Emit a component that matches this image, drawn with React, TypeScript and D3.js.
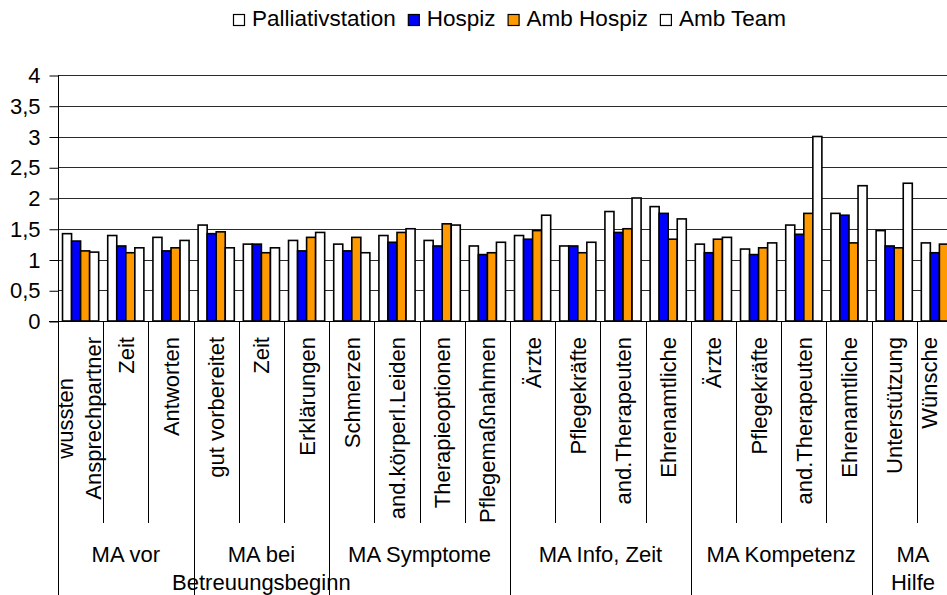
import React, { useRef, useEffect } from "react";
import * as d3 from "d3";

// category labels (one entry per bar group, lines split for wrapped labels)
const categories: string[][] = [
  ["wussten", "Ansprechpartner"],
  ["Zeit"],
  ["Antworten"],
  ["gut vorbereitet"],
  ["Zeit"],
  ["Erklärungen"],
  ["Schmerzen"],
  ["and.körperl.Leiden"],
  ["Therapieoptionen"],
  ["Pflegemaßnahmen"],
  ["Ärzte"],
  ["Pflegekräfte"],
  ["and.Therapeuten"],
  ["Ehrenamtliche"],
  ["Ärzte"],
  ["Pflegekräfte"],
  ["and.Therapeuten"],
  ["Ehrenamtliche"],
  ["Unterstützung"],
  ["Wünsche"],
];

const groupNames: string[][] = [
  ["MA vor"],
  ["MA bei", "Betreuungsbeginn"],
  ["MA Symptome"],
  ["MA Info, Zeit"],
  ["MA Kompetenz"],
  ["MA", "Hilfe"],
];
const groupSizes = [3, 3, 4, 4, 4, 2];

const seriesNames = ["Palliativstation", "Hospiz", "Amb Hospiz", "Amb Team"];
const seriesColors = ["#ffffff", "#0000ff", "#ff9900", "#ffffff"];

const palliativ = [1.42, 1.39, 1.36, 1.56, 1.25, 1.31, 1.25, 1.39, 1.31, 1.22, 1.39, 1.22, 1.78, 1.86, 1.25, 1.17, 1.56, 1.75, 1.47, 1.27];
const hospiz = [1.3, 1.22, 1.14, 1.42, 1.25, 1.14, 1.14, 1.28, 1.22, 1.08, 1.33, 1.22, 1.44, 1.75, 1.11, 1.08, 1.41, 1.72, 1.22, 1.11];
const ambHospiz = [1.14, 1.11, 1.19, 1.45, 1.11, 1.36, 1.36, 1.44, 1.58, 1.11, 1.47, 1.11, 1.5, 1.33, 1.33, 1.19, 1.75, 1.27, 1.19, 1.25];
const ambTeam = [1.12, 1.19, 1.31, 1.19, 1.19, 1.44, 1.11, 1.5, 1.56, 1.28, 1.72, 1.28, 2.0, 1.66, 1.36, 1.27, 3.0, 2.2, 2.24, 1.62];

const yTicks = [0, 0.5, 1, 1.5, 2, 2.5, 3, 3.5, 4];
const yTickLabels = ["0", "0,5", "1", "1,5", "2", "2,5", "3", "3,5", "4"];

const W = 947;
const H = 595;
const FONT = "'Liberation Sans', Arial, sans-serif";
const FS = "22px";

const App = () => {
  const svgRef = useRef<SVGSVGElement>(null);

  useEffect(() => {
    const svg = d3.select(svgRef.current);
    svg.selectAll("*").remove();

    const left = 58;
    const right = 962; // plot continues past the window edge
    const top = 75;
    const bottom = 321;

    const series = [palliativ, hospiz, ambHospiz, ambTeam];
    const idx = d3.range(categories.length);

    const x0 = d3.scaleBand<number>().domain(idx).range([left, right]).paddingInner(0).paddingOuter(0);
    const x1 = d3
      .scaleBand<number>()
      .domain(d3.range(series.length))
      .range([0, x0.bandwidth()])
      .paddingInner(0)
      .paddingOuter(0.5);
    const y = d3.scaleLinear().domain([0, 4]).range([bottom, top]);

    // gridlines
    svg
      .append("g")
      .selectAll("line")
      .data(yTicks.filter((t) => t > 0))
      .enter()
      .append("line")
      .attr("x1", left)
      .attr("x2", W)
      .attr("y1", (d) => Math.round(y(d)) + 0.5)
      .attr("y2", (d) => Math.round(y(d)) + 0.5)
      .attr("stroke", "#2a2a2a")
      .attr("stroke-width", 1);

    // y axis
    const yAxis = svg
      .append("g")
      .attr("transform", `translate(${left + 0.5},0.5)`)
      .call(
        d3
          .axisLeft(y)
          .tickValues(yTicks)
          .tickSize(9)
          .tickPadding(9)
          .tickFormat((d, i) => yTickLabels[i])
      );
    yAxis.select(".domain").remove();
    yAxis.selectAll(".tick line").attr("stroke", "#000");
    yAxis
      .selectAll(".tick text")
      .attr("fill", "#000")
      .style("font-family", FONT)
      .style("font-size", FS);

    // bars
    series.forEach((vals, s) => {
      svg
        .append("g")
        .selectAll("rect")
        .data(vals)
        .enter()
        .append("rect")
        .attr("x", (d, i) => (x0(i) as number) + (x1(s) as number))
        .attr("y", (d) => y(d))
        .attr("width", x1.bandwidth())
        .attr("height", (d) => y(0) - y(d))
        .attr("fill", seriesColors[s])
        .attr("stroke", "#000")
        .attr("stroke-width", 1.6);
    });

    // axis line (x) and left axis line that runs down into the label area
    svg
      .append("line")
      .attr("x1", left - 9)
      .attr("x2", W)
      .attr("y1", bottom + 0.5)
      .attr("y2", bottom + 0.5)
      .attr("stroke", "#000");
    svg
      .append("line")
      .attr("x1", left + 0.5)
      .attr("x2", left + 0.5)
      .attr("y1", top)
      .attr("y2", H)
      .attr("stroke", "#000");

    // category separators: short inside a group, long between groups
    const groupStarts = groupSizes.map((n, i) => d3.sum(groupSizes.slice(0, i)));
    idx.slice(1).forEach((i) => {
      const isGroup = groupStarts.includes(i);
      const xx = Math.round(x0(i) as number) + 0.5;
      svg
        .append("line")
        .attr("x1", xx)
        .attr("x2", xx)
        .attr("y1", bottom)
        .attr("y2", isGroup ? H : 523)
        .attr("stroke", "#000");
    });

    // category labels (rotated); labels at the cut edge are kept inside the window
    categories.forEach((lines, i) => {
      const cx = Math.min((x0(i) as number) + x0.bandwidth() / 2, W - 18);
      if (lines.length === 1) {
        svg
          .append("text")
          .attr("transform", `translate(${cx},337) rotate(-90)`)
          .attr("text-anchor", "end")
          .attr("dy", "0.36em")
          .style("font-family", FONT)
          .style("font-size", FS)
          .text(lines[0]);
      } else {
        const g = svg.append("g");
        const texts = lines.map((l) =>
          g
            .append("text")
            .attr("text-anchor", "middle")
            .attr("dy", "0.36em")
            .style("font-family", FONT)
            .style("font-size", FS)
            .text(l)
        );
        const longest = d3.max(texts, (t) => (t.node() as SVGTextElement).getComputedTextLength()) || 0;
        const cy = 337 + longest / 2;
        texts.forEach((t, k) => {
          const off = (k - (lines.length - 1) / 2) * 28 - 2;
          t.attr("transform", `translate(${cx + off},${cy}) rotate(-90)`);
        });
      }
    });

    // group labels
    groupNames.forEach((lines, gi) => {
      const start = groupStarts[gi];
      const end = start + groupSizes[gi] - 1;
      const gx = Math.min(
        ((x0(start) as number) + (x0(end) as number) + x0.bandwidth()) / 2,
        W - 34
      );
      lines.forEach((l, k) => {
        svg
          .append("text")
          .attr("x", gx)
          .attr("y", 562 + k * 28)
          .attr("text-anchor", "middle")
          .style("font-family", FONT)
          .style("font-size", FS)
          .text(l);
      });
    });

    // legend
    const legend = svg.append("g");
    let cursor = 0;
    const box = 11;
    seriesNames.forEach((name, s) => {
      legend
        .append("rect")
        .attr("x", cursor + 0.5)
        .attr("y", 14.5)
        .attr("width", box)
        .attr("height", box)
        .attr("fill", seriesColors[s])
        .attr("stroke", "#000")
        .attr("stroke-width", 1.2);
      const t = legend
        .append("text")
        .attr("x", cursor + box + 8)
        .attr("y", 26)
        .style("font-family", FONT)
        .style("font-size", "22.5px")
        .text(name);
      cursor += box + 8 + (t.node() as SVGTextElement).getComputedTextLength() + 12;
    });
    const legendWidth = cursor - 12;
    legend.attr("transform", `translate(${Math.round(510 - legendWidth / 2)},0)`);
  }, []);

  return (
    <svg
      ref={svgRef}
      width={W}
      height={H}
      style={{ position: "absolute", left: 0, top: 0, background: "#fff" }}
    />
  );
};

export default App;
